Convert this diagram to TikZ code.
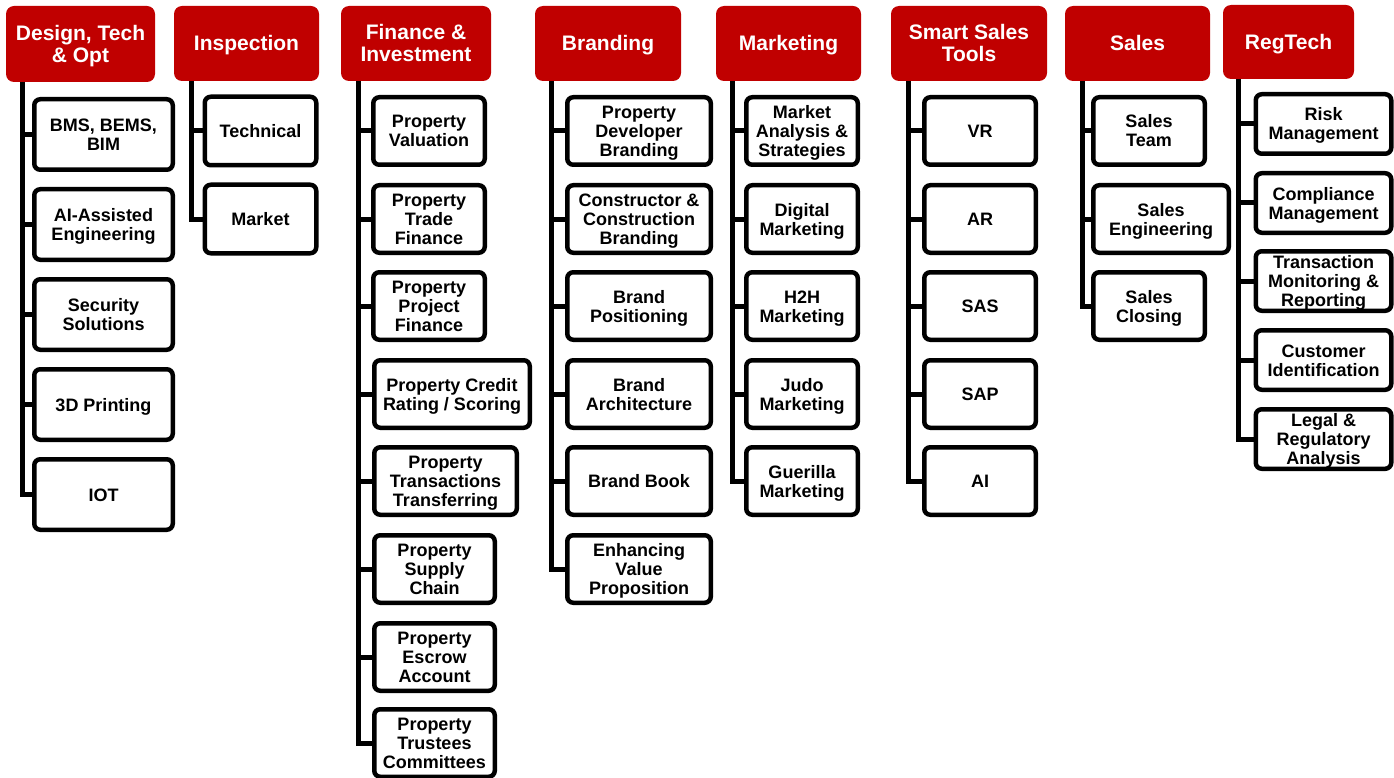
\documentclass[tikz,border=0pt]{standalone}
\usepackage{fontspec}
\setmainfont{Liberation Sans}
\usetikzlibrary{backgrounds}
\definecolor{hred}{RGB}{192,0,0}
\newcommand\myheadfont{\bfseries\fontsize{21}{22}\selectfont}
\newcommand\myitemfont{\bfseries\fontsize{18}{19}\selectfont}
\newcommand\htxt[1]{\rule{0pt}{19.5pt}#1\rule[-4.5pt]{0pt}{4.5pt}}
\newcommand\itxt[1]{\rule{0pt}{17pt}#1\rule[-4pt]{0pt}{4pt}}
\begin{document}
\begin{tikzpicture}[x=1pt,y=-1pt,
  head/.style={fill=hred, draw=none, rounded corners=8pt, text=white, font=\myheadfont, align=center, inner sep=0pt},
  item/.style={draw=black, line width=4.5pt, fill=white, rounded corners=6pt, font=\myitemfont, align=center, inner sep=0pt},
  conn/.style={line width=5pt, draw=black},
  hd/.style n args={2}{head, minimum width=#1, minimum height=#2},
  it/.style n args={2}{item, minimum width=#1-4.5, minimum height=#2-4.5}]
\useasboundingbox (0,0) rectangle (1394,778);
% headers
\node[hd={149}{76}] (hA) at (80.5,44) {\htxt{Design, Tech\\\& Opt}};
\node[hd={145}{75}] (hB) at (246.5,43.5) {\htxt{Inspection}};
\node[hd={150}{75}] (hC) at (416,43.5) {\htxt{Finance \&\\Investment}};
\node[hd={146}{75}] (hD) at (608,43.5) {\htxt{Branding}};
\node[hd={145}{75}] (hE) at (788.5,43.5) {\htxt{Marketing}};
\node[hd={156}{75}] (hF) at (969,43.5) {\htxt{Smart Sales\\Tools}};
\node[hd={145}{75}] (hG) at (1137.5,43.5) {\htxt{Sales}};
\node[hd={131}{74}] (hH) at (1288.5,42) {\htxt{RegTech}};
% column A
\node[it={143}{75}] (a1) at (103.5,134.5) {\itxt{BMS, BEMS,\\BIM}};
\node[it={143}{75}] (a2) at (103.5,224.5) {\itxt{AI-Assisted\\Engineering}};
\node[it={143}{75}] (a3) at (103.5,314.5) {\itxt{Security\\Solutions}};
\node[it={143}{75}] (a4) at (103.5,404.5) {\itxt{3D Printing}};
\node[it={143}{75}] (a5) at (103.5,494.5) {\itxt{IOT}};
% column B
\node[it={116}{73}] (b1) at (260.5,131) {\itxt{Technical}};
\node[it={116}{73}] (b2) at (260.5,219) {\itxt{Market}};
% column C
\node[it={116}{72}] (c1) at (429,131) {\itxt{Property\\Valuation}};
\node[it={116}{72}] (c2) at (429,219) {\itxt{Property\\Trade\\Finance}};
\node[it={116}{72}] (c3) at (429,306) {\itxt{Property\\Project\\Finance}};
\node[it={160}{72}] (c4) at (452,394) {\itxt{Property Credit\\Rating / Scoring}};
\node[it={147}{72}] (c5) at (445.5,481) {\itxt{Property\\Transactions\\Transferring}};
\node[it={125}{72}] (c6) at (434.5,569) {\itxt{Property\\Supply\\Chain}};
\node[it={125}{72}] (c7) at (434.5,657) {\itxt{Property\\Escrow\\Account}};
\node[it={125}{72}] (c8) at (434.5,743) {\itxt{Property\\Trustees\\Committees}};
% column D
\node[it={148}{72}] (d1) at (639,131) {\itxt{Property\\Developer\\Branding}};
\node[it={148}{72}] (d2) at (639,219) {\itxt{Constructor \&\\Construction\\Branding}};
\node[it={148}{72}] (d3) at (639,306) {\itxt{Brand\\Positioning}};
\node[it={148}{72}] (d4) at (639,394) {\itxt{Brand\\Architecture}};
\node[it={148}{72}] (d5) at (639,481) {\itxt{Brand Book}};
\node[it={148}{72}] (d6) at (639,569) {\itxt{Enhancing\\Value\\Proposition}};
% column E
\node[it={116}{72}] (e1) at (802,131) {\itxt{Market\\Analysis \&\\Strategies}};
\node[it={116}{72}] (e2) at (802,219) {\itxt{Digital\\Marketing}};
\node[it={116}{72}] (e3) at (802,306) {\itxt{H2H\\Marketing}};
\node[it={116}{72}] (e4) at (802,394) {\itxt{Judo\\Marketing}};
\node[it={116}{72}] (e5) at (802,481) {\itxt{Guerilla\\Marketing}};
% column F
\node[it={116}{72}] (f1) at (980,131) {\itxt{VR}};
\node[it={116}{72}] (f2) at (980,219) {\itxt{AR}};
\node[it={116}{72}] (f3) at (980,306) {\itxt{SAS}};
\node[it={116}{72}] (f4) at (980,394) {\itxt{SAP}};
\node[it={116}{72}] (f5) at (980,481) {\itxt{AI}};
% column G
\node[it={116}{72}] (g1) at (1149,131) {\itxt{Sales\\Team}};
\node[it={140}{72}] (g2) at (1161,219) {\itxt{Sales\\Engineering}};
\node[it={116}{72}] (g3) at (1149,306) {\itxt{Sales\\Closing}};
% column H
\node[it={140}{64}] (r1) at (1323.5,124) {\itxt{Risk\\Management}};
\node[it={140}{64}] (r2) at (1323.5,203) {\itxt{Compliance\\Management}};
\node[it={140}{64}] (r3) at (1323.5,281) {\itxt{Transaction\\Monitoring \&\\Reporting}};
\node[it={140}{64}] (r4) at (1323.5,360) {\itxt{Customer\\Identification}};
\node[it={140}{64}] (r5) at (1323.5,439) {\itxt{Legal \&\\Regulatory\\Analysis}};
% trunk tops
\coordinate (tA) at (22,82);
\coordinate (tB) at (191,81);
\coordinate (tC) at (358,81);
\coordinate (tD) at (551.5,81);
\coordinate (tE) at (732,81);
\coordinate (tF) at (908,81);
\coordinate (tG) at (1082,81);
\coordinate (tH) at (1238,79);
\begin{scope}[on background layer]
\draw[conn] (tA) |- (a5.west);
\foreach \n in {a1,a2,a3,a4} \draw[conn] (tA |- \n.west) -- (\n.west);
\draw[conn] (tB) |- (b2.west);
\draw[conn] (tB |- b1.west) -- (b1.west);
\draw[conn] (tC) |- (c8.west);
\foreach \n in {c1,c2,c3,c4,c5,c6,c7} \draw[conn] (tC |- \n.west) -- (\n.west);
\draw[conn] (tD) |- (d6.west);
\foreach \n in {d1,d2,d3,d4,d5} \draw[conn] (tD |- \n.west) -- (\n.west);
\draw[conn] (tE) |- (e5.west);
\foreach \n in {e1,e2,e3,e4} \draw[conn] (tE |- \n.west) -- (\n.west);
\draw[conn] (tF) |- (f5.west);
\foreach \n in {f1,f2,f3,f4} \draw[conn] (tF |- \n.west) -- (\n.west);
\draw[conn] (tG) |- (g3.west);
\foreach \n in {g1,g2} \draw[conn] (tG |- \n.west) -- (\n.west);
\draw[conn] (tH) |- (r5.west);
\foreach \n in {r1,r2,r3,r4} \draw[conn] (tH |- \n.west) -- (\n.west);
\end{scope}
\end{tikzpicture}
\end{document}
